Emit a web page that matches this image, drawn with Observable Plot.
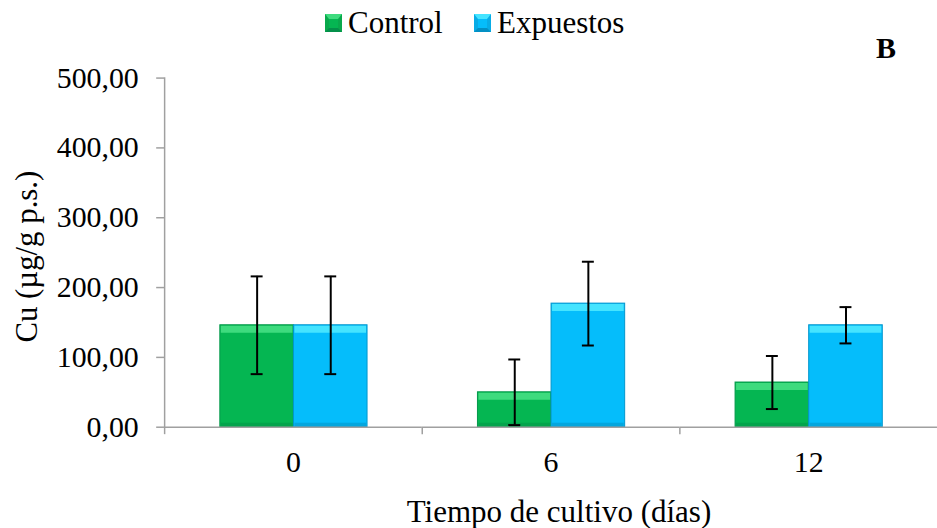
<!DOCTYPE html>
<html>
<head>
<meta charset="utf-8">
<script src="https://cdn.jsdelivr.net/npm/d3@7"></script>
<script src="https://cdn.jsdelivr.net/npm/@observablehq/plot@0.6"></script>
<style>
  html, body { margin: 0; padding: 0; background: #fff; overflow: hidden; }
  #wrap { position: relative; width: 937px; height: 528px; overflow: hidden; font-family: "Liberation Serif", serif; }
  #chart { position: absolute; left: 0; top: 0; }
  .leg { position: absolute; top: 8px; font-family: "Liberation Serif", serif; font-size: 31px; line-height: 30px; color: #000; white-space: nowrap; }
  .sw { position: absolute; top: 14px; width: 9px; height: 9px; border-style: solid; border-width: 5px 4px 4px 4px; }
  #tag { position: absolute; left: 876px; top: 33px; font-family: "Liberation Serif", serif; font-size: 30px; line-height: 30px; font-weight: bold; }
  #xtitle { position: absolute; left: 359px; width: 400px; text-align: center; top: 497px; font-family: "Liberation Serif", serif; font-size: 31px; line-height: 30px; color: #000; white-space: nowrap; }
</style>
</head>
<body>
<div id="wrap">
  <div id="chart"></div>
  <div class="sw" style="left:325px;background:#05B652;border-color:#3EDB7E #09A94C #04904A #09A94C;"></div>
  <div class="leg" style="left:348px;">Control</div>
  <div class="sw" style="left:474px;background:#05BDFB;border-color:#45E4FF #08ACE6 #0390C4 #08ACE6;"></div>
  <div class="leg" style="left:497px;">Expuestos</div>
  <div id="tag">B</div>
  <div id="xtitle">Tiempo de cultivo (días)</div>
</div>
<script>
const days = ["0", "6", "12"];
const series = ["Control", "Expuestos"];
const controlValues = [146, 50, 64];
const controlErrors = [70, 47, 38];
const expuestosValues = [146, 177, 146];
const expuestosErrors = [70, 60, 26];
const yTicks = [0, 100, 200, 300, 400, 500];

const faceColors = ["#05B652", "#05BDFB"];
const lightColors = ["#3EDB7E", "#45E4FF"];
const darkColors = ["#04984A", "#0396CC"];

const rows = [];
days.forEach((d, i) => {
  rows.push({day: d, series: "Control", value: controlValues[i], err: controlErrors[i]});
  rows.push({day: d, series: "Expuestos", value: expuestosValues[i], err: expuestosErrors[i]});
});

const serifFont = "Liberation Serif, serif";
const fmt = v => v.toFixed(2).replace(".", ",");
const tickSymbol = {draw(ctx) { ctx.moveTo(0, 0); ctx.lineTo(0, 7); }};
const axisGray = "#A0A0A0";

const chart = Plot.plot({
  width: 942,
  height: 528,
  marginLeft: 164,
  marginRight: 0,
  marginTop: 78,
  marginBottom: 99,
  style: {fontFamily: serifFont, fontSize: "30px", background: "transparent", color: "#000"},
  fx: {domain: days, padding: 0, label: null},
  x: {domain: series, paddingInner: 0, paddingOuter: 0.75, axis: null},
  y: {domain: [0, 500], label: null},
  color: {domain: series, range: faceColors},
  marks: [
    Plot.barY(rows, {fx: "day", x: "series", y: "value", fill: "series", stroke: d => darkColors[series.indexOf(d.series)], strokeWidth: 1}),
    Plot.tickY(rows, {fx: "day", x: "series", y: "value", stroke: d => lightColors[series.indexOf(d.series)], strokeWidth: 7, dy: 4, insetLeft: 1, insetRight: 1}),
    Plot.tickY(rows, {fx: "day", x: "series", y: 0, stroke: d => darkColors[series.indexOf(d.series)], strokeWidth: 4, strokeOpacity: 0.6, dy: -2.5, insetLeft: 1, insetRight: 1}),
    Plot.ruleY([0], {stroke: axisGray, strokeWidth: 1.5}),
    Plot.frame({anchor: "left", facetAnchor: "left", stroke: axisGray, strokeWidth: 1.5}),
    Plot.dot([0], {frameAnchor: "bottom-left", symbol: tickSymbol, fill: "none", stroke: axisGray, strokeWidth: 1.5}),
    Plot.ruleX(rows, {fx: "day", x: "series", y1: d => d.value - d.err, y2: d => d.value + d.err, stroke: "#000", strokeWidth: 2}),
    Plot.tickY(rows, {fx: "day", x: "series", y: d => d.value - d.err, stroke: "#000", strokeWidth: 2, insetLeft: 31, insetRight: 31}),
    Plot.tickY(rows, {fx: "day", x: "series", y: d => d.value + d.err, stroke: "#000", strokeWidth: 2, insetLeft: 31, insetRight: 31}),
    Plot.axisY({ticks: yTicks, tickFormat: fmt, tickSize: 8, tickPadding: 18, stroke: axisGray, strokeWidth: 1.5, fill: "#000", fontSize: 30, fontFamily: serifFont, label: null}),
    Plot.axisFx({anchor: "bottom", tickSize: 0, tickPadding: 24, fill: "#000", fontSize: 30, fontFamily: serifFont, label: null}),
    Plot.text(["Cu (µg/g p.s.)"], {text: d => d, frameAnchor: "left", facetAnchor: "left", textAnchor: "middle", lineAnchor: "middle", rotate: -90, dx: -138, dy: 4, fontSize: 31, fontFamily: serifFont, fill: "#000"})
  ]
});
document.getElementById("chart").appendChild(chart);
</script>
</body>
</html>
